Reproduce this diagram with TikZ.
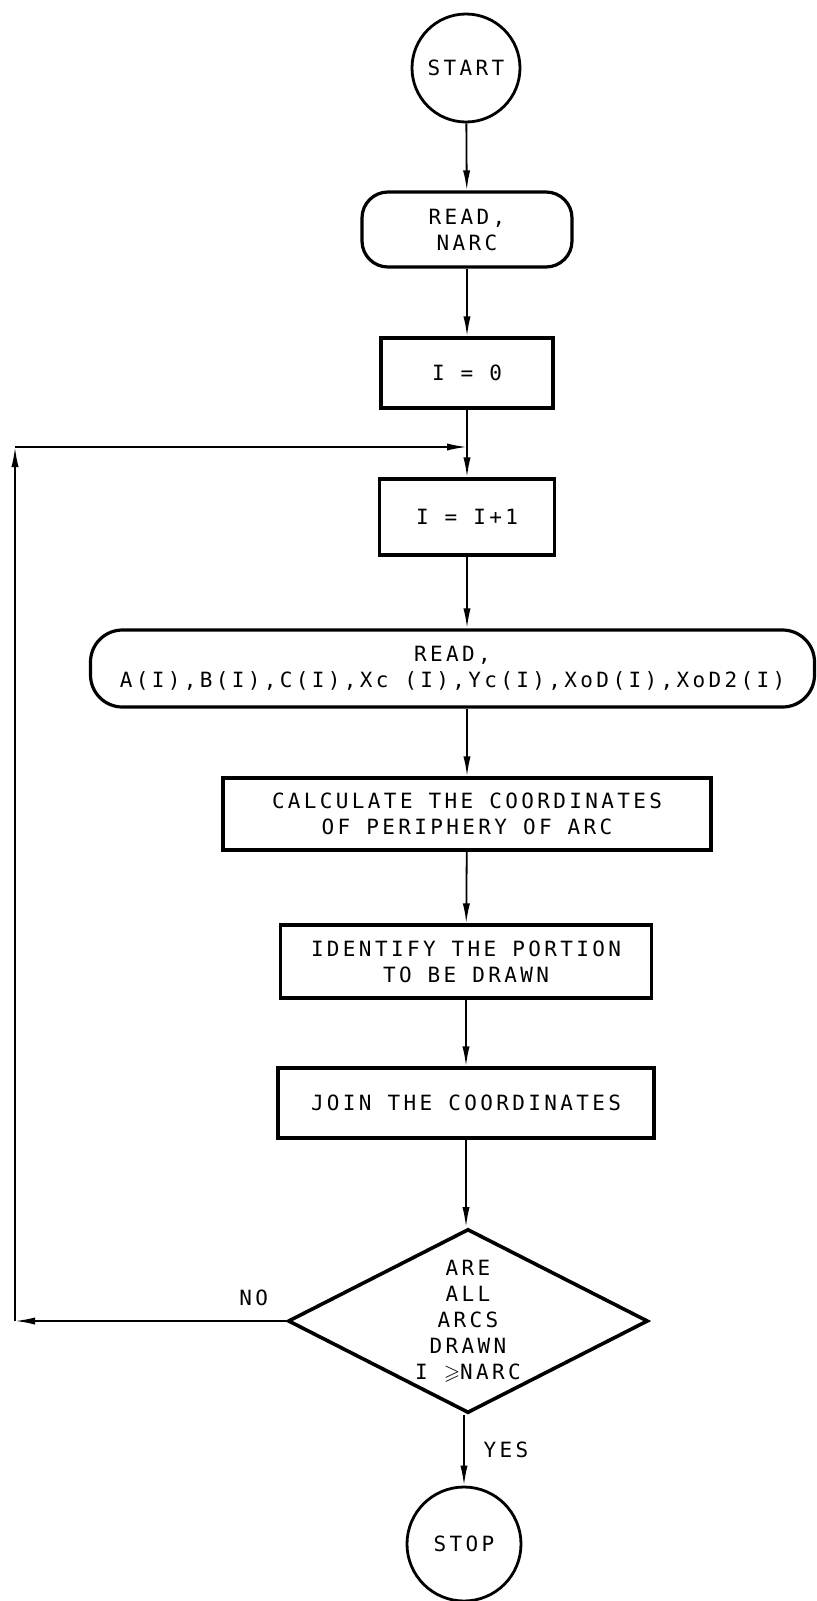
\documentclass[tikz,border=0pt]{standalone}
\usepackage{amsmath,amssymb}
\usepackage{fontspec}
\usepackage{tikz}
\usetikzlibrary{positioning, arrows.meta, shapes.geometric}
\newfontfamily\leroy{DejaVu Sans Mono}[LetterSpace=16]

\begin{document}
\begin{tikzpicture}[
    x=0.5pt, y=-0.5pt,
    every node/.style={font=\leroy\fontsize{10.5}{13}\selectfont, align=center},
    process/.style={rectangle, draw, line width=1.6pt, inner sep=0pt},
    terminal/.style={rectangle, rounded corners=13pt, draw, line width=1.6pt, inner sep=0pt},
    endpoint/.style={circle, draw, line width=1.4pt, inner sep=0pt},
    decision/.style={diamond, aspect=2, draw, line width=1.8pt, inner sep=0pt},
    flow/.style={-{Latex[length=10pt, width=3.6pt]}, line width=0.9pt}
]
    \useasboundingbox (0,0) rectangle (817,1601);

    % Main column
    \node[endpoint, minimum size=54pt] (start) at (466,68) {START};
    \node[terminal, minimum width=105pt, minimum height=37.5pt] (readn) at (467,229.5) {READ,\\NARC};
    \node[process, minimum width=86pt, minimum height=35pt] (init) at (467,373) {I = 0};
    \coordinate (junc) at (467,447);
    \node[process, minimum width=87.5pt, minimum height=38pt] (incr) at (467,517) {I = I+1};
    \node[terminal, rounded corners=16pt, minimum width=362pt, minimum height=38.5pt] (readd) at (452.5,668.5) {READ,\\A(I),B(I),C(I),Xc (I),Yc(I),XoD(I),XoD2(I)};
    \node[process, minimum width=244pt, minimum height=36pt] (calc) at (467,814) {CALCULATE THE COORDINATES\\OF PERIPHERY OF ARC};
    \node[process, minimum width=185.5pt, minimum height=36.5pt] (ident) at (466,961.5) {IDENTIFY THE PORTION\\TO BE DRAWN};
    \node[process, minimum width=188pt, minimum height=35pt] (join) at (466,1103) {JOIN THE COORDINATES};
    \node[decision, minimum width=180pt, minimum height=92pt] (dec) at (468,1321) {ARE\\ALL\\ARCS\\DRAWN\\I \(\geqslant\)NARC};
    \node[endpoint, minimum size=57pt] (stop) at (464,1544) {STOP};

    \draw[flow] (start) -- (readn);
    \draw[flow] (readn) -- (init);
    \draw[line width=0.9pt] (init) -- (junc);
    \draw[flow] (junc) -- (incr);
    \draw[flow] (incr) -- (readd.north -| incr);
    \draw[flow] (readd.south -| calc) -- (calc);
    \draw[flow] (calc) -- (ident);
    \draw[flow] (ident) -- (join);
    \draw[flow] (join) -- (dec.north -| join);
    \draw[flow] (dec.south -| stop) -- node[right=6pt] {YES} (stop);

    % Loop back
    \coordinate (lowleft) at (15,1321);
    \coordinate (upleft) at (15,447);
    \draw[flow] (dec.west) -- node[above=4pt, pos=0.12] {NO} (lowleft);
    \draw[flow] (lowleft) -- (upleft);
    \draw[flow] (upleft) -- (junc);
\end{tikzpicture}
\end{document}
